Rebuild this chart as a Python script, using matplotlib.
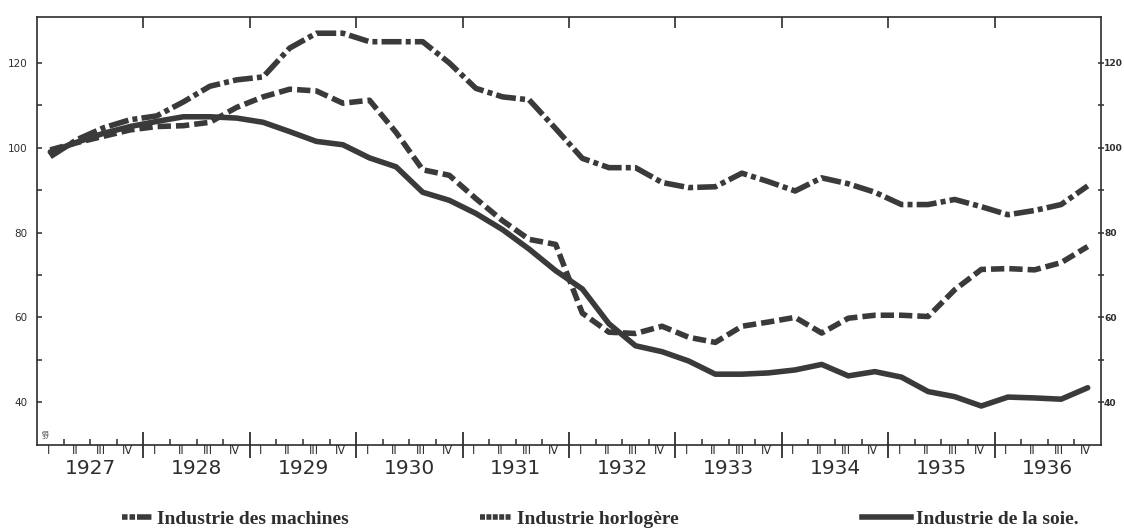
import matplotlib
matplotlib.use("Agg")
import matplotlib.pyplot as plt
from matplotlib.lines import Line2D
import numpy as np

# ---- data (quarterly indices, 1927 I .. 1936 IV) ----
years = [1927, 1928, 1929, 1930, 1931, 1932, 1933, 1934, 1935, 1936]
quarters = ["I", "II", "III", "IV"]

machines = [97.9, 101.9, 104.7, 106.6, 107.5, 110.8, 114.5, 116.0, 116.7, 123.5,
            127.0, 127.0, 125.0, 125.0, 125.0, 120.0, 114.0, 112.0, 111.3, 104.5,
            97.5, 95.3, 95.3, 91.8, 90.6, 90.8, 94.0, 92.0, 89.8, 92.9,
            91.5, 89.5, 86.6, 86.6, 87.8, 86.1, 84.2, 85.2, 86.6, 91.0]

horlogere = [99.5, 101.2, 102.7, 104.2, 105.0, 105.2, 106.0, 109.5, 112.0, 113.8,
             113.4, 110.5, 111.2, 103.6, 94.8, 93.5, 88.0, 82.8, 78.4, 77.2,
             61.0, 56.5, 56.2, 57.9, 55.3, 54.1, 57.9, 58.9, 60.0, 56.3,
             59.8, 60.5, 60.5, 60.2, 66.5, 71.3, 71.5, 71.2, 72.9, 76.7]

soie = [99.0, 101.3, 103.4, 105.0, 106.2, 107.3, 107.3, 107.0, 106.0, 103.8,
        101.5, 100.7, 97.6, 95.5, 89.5, 87.6, 84.5, 80.7, 76.1, 71.0,
        66.7, 58.5, 53.3, 51.9, 49.7, 46.6, 46.6, 46.9, 47.6, 48.9,
        46.2, 47.2, 45.9, 42.5, 41.3, 39.1, 41.2, 41.0, 40.7, 43.4]

labels = ["Industrie des machines", "Industrie horlogère", "Industrie de la soie."]
y_major = [40, 60, 80, 100, 120]
y_minor = [50, 70, 90, 110]

# ---- figure ----
W, H = 1124, 530
fig = plt.figure(figsize=(W / 100, H / 100), dpi=100)
fig.patch.set_facecolor("white")
L, R, T, B = 37, 1101, 16.7, 445
ax = fig.add_axes([L / W, 1 - B / H, (R - L) / W, (B - T) / H])

ink = "#2e2e2e"
lc = "#3a3a3a"
lw = 4.0

n = len(years) * 4
x = np.arange(n)

ax.plot(x, machines, color=lc, lw=lw, dashes=(3.6, 0.75, 0.9, 0.75),
        dash_capstyle="butt", solid_joinstyle="round")
ax.plot(x, horlogere, color=lc, lw=lw, dashes=(2.4, 0.9),
        dash_capstyle="butt", solid_joinstyle="round")
ax.plot(x, soie, color=lc, lw=lw, solid_capstyle="round", solid_joinstyle="round")

ax.set_xlim(-0.5, n - 0.5)
ax.set_ylim(29.9, 130.9)

for s in ax.spines.values():
    s.set_linewidth(1.2)
    s.set_color(ink)

# x ticks: year boundaries (major), quarter boundaries (minor)
year_b = [-0.5 + 4 * k for k in range(1, len(years))]
quart_b = [-0.5 + j for j in range(1, n) if j % 4 != 0]
ax.set_xticks(year_b)
ax.set_xticks(quart_b, minor=True)
ax.tick_params(axis="x", which="major", direction="inout", length=19,
               width=1.3, color=ink, labelbottom=False)
ax.tick_params(axis="x", which="minor", direction="in", length=4.5,
               width=1.1, color=ink)

secx = ax.secondary_xaxis("top")
secx.set_xticks(year_b)
secx.tick_params(direction="in", length=8, width=1.2, color=ink, labeltop=False)
secx.spines["top"].set_visible(False)

# y ticks
ax.set_yticks(y_major)
ax.set_yticks(y_minor, minor=True)
ax.set_yticklabels([str(v) for v in y_major], fontsize=7.5, color=ink)
ax.tick_params(axis="y", which="both", direction="in", length=3.5, width=1.1,
               color=ink, pad=7)

secy = ax.secondary_yaxis("right")
secy.set_yticks(y_major)
secy.set_yticks(y_minor, minor=True)
secy.set_yticklabels([str(v) for v in y_major], fontsize=6.6, color=ink,
                     fontweight="bold")
secy.tick_params(axis="y", which="both", direction="inout", length=4, width=1.1,
                 color=ink, pad=0.2)
secy.spines["right"].set_visible(False)

# quarter and year labels
xt = ax.get_xaxis_transform()
for j in range(n):
    ax.text(j - 0.08, -0.014, quarters[j % 4], transform=xt, ha="center",
            va="center", fontsize=8.3, color=ink)
for k, yr in enumerate(years):
    ax.text(4 * k + 1.5, -0.0545, str(yr), transform=xt, ha="center",
            va="center", fontsize=14.5, color=ink)

ax.text(0.004, 0.022, "68\n37", transform=ax.transAxes, fontsize=4.5,
        color=ink, ha="left", va="center", linespacing=0.85)

# legend (three separate entries placed along the bottom)
fs = 14
h_mach = Line2D([], [], color=lc, lw=lw, dashes=(1.0, 0.35, 1.0, 0.35, 2.6, 0.3),
                dash_capstyle="butt")
h_horl = Line2D([], [], color=lc, lw=lw, dashes=(0.9, 0.25),
                dash_capstyle="butt")
h_soie = Line2D([], [], color=lc, lw=lw)
entries = [(h_mach, labels[0], 122, 1.55), (h_horl, labels[1], 480, 1.65),
           (h_soie, labels[2], 862, 2.5)]
for h, lab, x0, hl in entries:
    fig.legend([h], [lab], loc="center left", bbox_to_anchor=(x0 / W, 1 - 519 / H),
               frameon=False, borderpad=0, borderaxespad=0, handlelength=hl,
               handletextpad=0.26,
               prop={"family": "Liberation Serif", "weight": "bold", "size": fs},
               labelcolor=ink)

fig.savefig("out.png", dpi=100, facecolor="white")
